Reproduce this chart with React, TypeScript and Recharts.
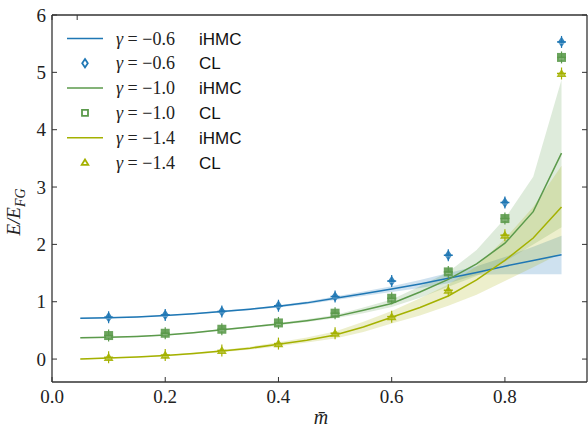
import { ComposedChart, Line, Area, Scatter, XAxis, YAxis } from "recharts"

// m-bar grid of the iHMC curves
const mLine = [0.05, 0.1, 0.15, 0.2, 0.25, 0.3, 0.35, 0.4, 0.45, 0.5, 0.55, 0.6, 0.65, 0.7, 0.75, 0.8, 0.85, 0.9]

// gamma = -0.6
const hmcA = [0.71, 0.72, 0.735, 0.76, 0.79, 0.83, 0.87, 0.92, 0.98, 1.06, 1.14, 1.22, 1.31, 1.41, 1.51, 1.62, 1.72, 1.82]
const hmcALo = [0.7, 0.71, 0.725, 0.75, 0.78, 0.815, 0.855, 0.9, 0.955, 1.03, 1.1, 1.17, 1.24, 1.32, 1.47, 1.48, 1.48, 1.48]
const hmcAHi = [0.72, 0.73, 0.745, 0.77, 0.8, 0.845, 0.885, 0.94, 1.005, 1.09, 1.18, 1.27, 1.38, 1.5, 1.62, 1.78, 1.96, 2.15]

// gamma = -1.0
const hmcB = [0.37, 0.38, 0.395, 0.42, 0.46, 0.51, 0.56, 0.61, 0.67, 0.74, 0.85, 0.97, 1.17, 1.39, 1.66, 2.02, 2.57, 3.59]
const hmcBLo = [0.36, 0.37, 0.385, 0.41, 0.45, 0.495, 0.545, 0.59, 0.645, 0.71, 0.8, 0.91, 1.07, 1.26, 1.45, 1.7, 2.0, 2.3]
const hmcBHi = [0.38, 0.39, 0.405, 0.43, 0.47, 0.525, 0.575, 0.63, 0.695, 0.77, 0.9, 1.04, 1.27, 1.52, 1.9, 2.45, 3.18, 4.87]

// gamma = -1.4
const hmcC = [0.0, 0.02, 0.035, 0.06, 0.095, 0.14, 0.19, 0.26, 0.33, 0.42, 0.56, 0.73, 0.9, 1.1, 1.38, 1.72, 2.11, 2.65]
const hmcCLo = [-0.01, 0.01, 0.025, 0.05, 0.08, 0.12, 0.165, 0.225, 0.29, 0.36, 0.47, 0.62, 0.76, 0.93, 1.12, 1.36, 1.6, 1.85]
const hmcCHi = [0.01, 0.03, 0.045, 0.07, 0.11, 0.16, 0.215, 0.295, 0.375, 0.48, 0.65, 0.84, 1.06, 1.3, 1.62, 2.1, 2.65, 3.37]

// complex Langevin points
const mCL = [0.1, 0.2, 0.3, 0.4, 0.5, 0.6, 0.7, 0.8, 0.9]
const clA = [0.73, 0.77, 0.83, 0.93, 1.09, 1.36, 1.81, 2.73, 5.53]
const clB = [0.41, 0.45, 0.52, 0.63, 0.8, 1.06, 1.52, 2.45, 5.26]
const clC = [0.03, 0.07, 0.15, 0.27, 0.45, 0.74, 1.2, 2.16, 4.98]

const xTicks = [0, 0.2, 0.4, 0.6, 0.8]
const yTicks = [0, 1, 2, 3, 4, 5, 6]

const BLUE = "#1f77b4"
const GREEN = "#5b9a4b"
const OLIVE = "#a4b100"
const AXIS = "#333"
const SERIF = "'Liberation Serif', 'DejaVu Serif', serif"
const SANS = "'Liberation Sans', Arial, sans-serif"

const lineData = mLine.map((m, i) => ({
  m,
  a: hmcA[i],
  aBand: [hmcALo[i], hmcAHi[i]],
  b: hmcB[i],
  bBand: [hmcBLo[i], hmcBHi[i]],
  c: hmcC[i],
  cBand: [hmcCLo[i], hmcCHi[i]],
}))

const clDataA = mCL.map((m, i) => ({ m, v: clA[i] }))
const clDataB = mCL.map((m, i) => ({ m, v: clB[i] }))
const clDataC = mCL.map((m, i) => ({ m, v: clC[i] }))

const legendRows = [
  { label: "−0.6", kind: "iHMC", color: BLUE, marker: "d" },
  { label: "−0.6", kind: "CL", color: BLUE, marker: "d" },
  { label: "−1.0", kind: "iHMC", color: GREEN, marker: "s" },
  { label: "−1.0", kind: "CL", color: GREEN, marker: "s" },
  { label: "−1.4", kind: "iHMC", color: OLIVE, marker: "^" },
  { label: "−1.4", kind: "CL", color: OLIVE, marker: "^" },
]

function markerPath(kind: string, cx: number, cy: number, s: number) {
  if (kind === "d") return `M${cx},${cy - s * 1.2} L${cx + s * 0.8},${cy} L${cx},${cy + s * 1.2} L${cx - s * 0.8},${cy} Z`
  if (kind === "s") return `M${cx - s},${cy - s} H${cx + s} V${cy + s} H${cx - s} Z`
  return `M${cx},${cy - s} L${cx + s * 1.1},${cy + s * 0.8} L${cx - s * 1.1},${cy + s * 0.8} Z`
}

// filled marker with a short errorbar
const makeShape = (kind: string, color: string) => (props: any) => {
  const { cx, cy } = props
  if (cx == null || cy == null) return <g />
  return (
    <g>
      <line x1={cx} x2={cx} y1={cy - 6} y2={cy + 6} stroke={color} strokeWidth={1.2} />
      <path d={markerPath(kind, cx, cy, 4.5)} fill={color} fillOpacity={0.9} />
      <line x1={cx - 4.5} x2={cx + 4.5} y1={cy} y2={cy} stroke={color} strokeWidth={1.5} />
      <line x1={cx - 2.5} x2={cx + 2.5} y1={cy + 1.5} y2={cy + 1.5} stroke="#fff" strokeOpacity={0.3} strokeWidth={1} />
    </g>
  )
}

const BottomTick = (props: any) => {
  const { x, y, payload } = props
  return (
    <g>
      <line x1={x} x2={x} y1={y - 8} y2={y - 13} stroke={AXIS} strokeWidth={1} />
      <text x={x} y={y} dy={13} textAnchor="middle" fontFamily={SERIF} fontSize={19} fill="#222">
        {Number(payload.value).toFixed(1)}
      </text>
    </g>
  )
}

const LeftTick = (props: any) => {
  const { x, y, payload } = props
  return (
    <g>
      <line x1={x + 6} x2={x + 11} y1={y} y2={y} stroke={AXIS} strokeWidth={1} />
      <text x={x} y={y} dy={6.5} textAnchor="end" fontFamily={SERIF} fontSize={19} fill="#222">
        {payload.value}
      </text>
    </g>
  )
}

const TopTick = (props: any) => {
  const { x, y } = props
  return <line x1={x} x2={x} y1={y} y2={y + 5} stroke={AXIS} strokeWidth={1} />
}

const RightTick = (props: any) => {
  const { x, y } = props
  return <line x1={x} x2={x - 5} y1={y} y2={y} stroke={AXIS} strokeWidth={1} />
}

function LegendBox() {
  return (
    <svg width={260} height={190} style={{ position: "absolute", left: 0, top: 0 }}>
      {legendRows.map((r, i) => {
        const y = 38.5 + i * 24.8
        return (
          <g key={i}>
            {r.kind === "iHMC" ? (
              <line x1={67} x2={103} y1={y} y2={y} stroke={r.color} strokeWidth={1.5} />
            ) : (
              <path d={markerPath(r.marker, 85, y, r.marker === "d" ? 3.5 : 3)} fill="#fff" stroke={r.color} strokeWidth={1.8} />
            )}
            <text x={116} y={y + 6} fontFamily={SERIF} fontSize={18} fill="#222">
              <tspan fontStyle="italic">γ</tspan>
              <tspan> = {r.label}</tspan>
            </text>
            <text x={199} y={y + 6} fontFamily={SANS} fontSize={17} fill="#111">
              {r.kind}
            </text>
          </g>
        )
      })}
    </svg>
  )
}

export default function App() {
  return (
    <div style={{ position: "absolute", left: 0, top: 0, width: 588, height: 431, background: "#fff" }}>
      <ComposedChart width={588} height={431} data={lineData} margin={{ top: 14, right: 0, bottom: 0, left: 0 }}>
        <XAxis
          dataKey="m"
          type="number"
          domain={[0, 0.945]}
          allowDataOverflow
          ticks={xTicks}
          tickSize={0}
          tickMargin={8}
          tickLine={false}
          tick={<BottomTick />}
          height={49}
          axisLine={{ stroke: AXIS, strokeWidth: 1.3 }}
        />
        <XAxis
          xAxisId="top"
          orientation="top"
          type="number"
          domain={[0, 0.945]}
          allowDataOverflow
          ticks={xTicks}
          tickSize={0}
          tickMargin={0}
          tickLine={false}
          tick={<TopTick />}
          height={1}
          axisLine={{ stroke: AXIS, strokeWidth: 1.3 }}
        />
        <YAxis
          type="number"
          domain={[-0.4, 6]}
          allowDataOverflow
          ticks={yTicks}
          tickSize={0}
          tickMargin={6}
          tickLine={false}
          tick={<LeftTick />}
          width={52}
          axisLine={{ stroke: AXIS, strokeWidth: 1.3 }}
        />
        <YAxis
          yAxisId="right"
          orientation="right"
          type="number"
          domain={[-0.4, 6]}
          allowDataOverflow
          ticks={yTicks}
          tickSize={0}
          tickMargin={0}
          tickLine={false}
          tick={<RightTick />}
          width={1}
          axisLine={{ stroke: AXIS, strokeWidth: 1.3 }}
        />

        <Area dataKey="aBand" type="linear" stroke="none" fill={BLUE} fillOpacity={0.22} isAnimationActive={false} />
        <Area dataKey="bBand" type="linear" stroke="none" fill={GREEN} fillOpacity={0.2} isAnimationActive={false} />
        <Area dataKey="cBand" type="linear" stroke="none" fill={OLIVE} fillOpacity={0.2} isAnimationActive={false} />

        <Line dataKey="a" type="linear" stroke={BLUE} strokeWidth={1.5} dot={false} isAnimationActive={false} />
        <Line dataKey="b" type="linear" stroke={GREEN} strokeWidth={1.5} dot={false} isAnimationActive={false} />
        <Line dataKey="c" type="linear" stroke={OLIVE} strokeWidth={1.5} dot={false} isAnimationActive={false} />

        <Scatter data={clDataA} dataKey="v" shape={makeShape("d", BLUE)} isAnimationActive={false} />
        <Scatter data={clDataB} dataKey="v" shape={makeShape("s", GREEN)} isAnimationActive={false} />
        <Scatter data={clDataC} dataKey="v" shape={makeShape("^", OLIVE)} isAnimationActive={false} />
      </ComposedChart>

      <LegendBox />

      <svg width={588} height={431} style={{ position: "absolute", left: 0, top: 0, pointerEvents: "none" }}>
        <text
          x={20}
          y={212}
          transform="rotate(-90 20 212)"
          textAnchor="middle"
          fontFamily={SERIF}
          fontStyle="italic"
          fontSize={19}
          fill="#222"
        >
          E/E
          <tspan fontSize={14} dy={5}>FG</tspan>
        </text>
        <text x={321} y={424} textAnchor="middle" fontFamily={SERIF} fontStyle="italic" fontSize={20} fill="#222">
          m̄
        </text>
      </svg>
    </div>
  )
}
